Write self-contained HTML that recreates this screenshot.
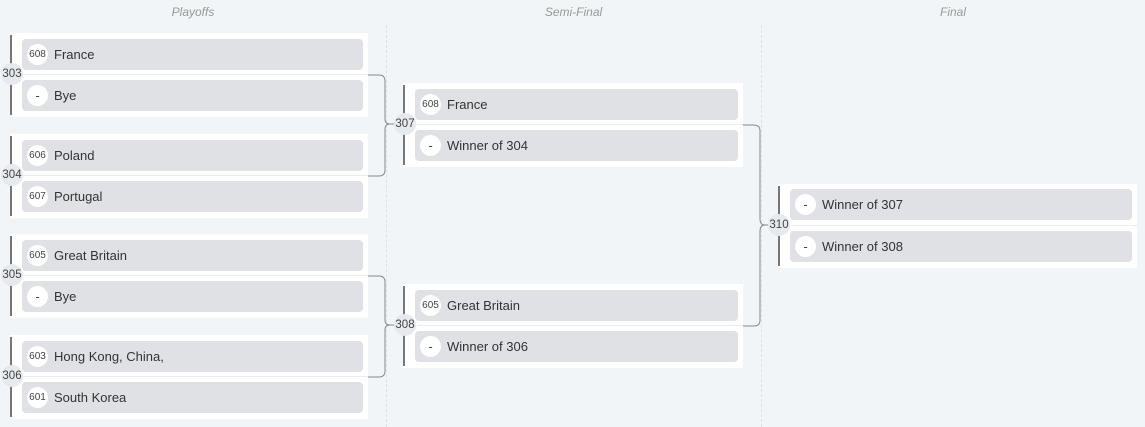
<!DOCTYPE html>
<html><head><meta charset="utf-8"><style>
body{margin:0;width:1145px;height:427px;background:#f2f5f8;font-family:"Liberation Sans",sans-serif;position:relative;overflow:hidden}
.h{position:absolute;top:5px;font-size:12px;font-style:italic;color:#999;text-align:center}
.m{position:absolute;background:#fff}
.bar{position:absolute;left:0;top:2px;bottom:2px;width:2px;background:#777}
.sep{position:absolute;left:0;right:0;height:1px;background:#e8ebef;top:41px}
.r{position:absolute;left:12px;right:5px;height:31px;background:#dfe1e5;border-radius:4px;font-size:13px;color:#333}
.r .c{position:absolute;left:5px;top:5px;width:21px;height:21px;border-radius:50%;background:#fff;font-size:10px;color:#444;text-align:center;line-height:21px}
.r .c.d{font-size:13px}
.r .t{position:absolute;left:32px;top:8px}
.id{position:absolute;width:22px;height:22px;border-radius:50%;background:#e6e9ed;font-size:11.5px;color:#444;text-align:center;line-height:22px}
.v{position:absolute;top:25px;bottom:0;border-left:1px dashed #dde1e6}
</style></head><body>
<div class="h" style="left:0;width:386px">Playoffs</div>
<div class="h" style="left:386px;width:375px">Semi-Final</div>
<div class="h" style="left:761px;width:384px">Final</div>
<div class="v" style="left:386px"></div>
<div class="v" style="left:761px"></div>
<svg width="1145" height="427" style="position:absolute;left:0;top:0" fill="none" stroke="#888" stroke-width="1">
<path d="M368 75 H379 Q385 75 385 81 V119 Q385 124 390 124 M368 176 H379 Q385 176 385 170 V129 Q385 124 390 124 H395"/>
<path d="M368 276 H379 Q385 276 385 282 V320 Q385 325 390 325 M368 377 H379 Q385 377 385 371 V330 Q385 325 390 325 H395"/>
<path d="M743 125 H754 Q760 125 760 131 V219 Q760 225 765 225 M743 326 H754 Q760 326 760 320 V231 Q760 225 765 225 H770"/>
</svg>

<div class="m" style="left:10px;top:33px;width:358px;height:84px"><div class="bar"></div><div class="sep"></div>
<div class="r" style="top:6px"><div class="c">608</div><div class="t">France</div></div>
<div class="r" style="top:47px"><div class="c d">-</div><div class="t">Bye</div></div></div>
<div class="id" style="left:1px;top:63px">303</div>

<div class="m" style="left:10px;top:134px;width:358px;height:84px"><div class="bar"></div><div class="sep"></div>
<div class="r" style="top:6px"><div class="c">606</div><div class="t">Poland</div></div>
<div class="r" style="top:47px"><div class="c">607</div><div class="t">Portugal</div></div></div>
<div class="id" style="left:1px;top:164px">304</div>

<div class="m" style="left:10px;top:234px;width:358px;height:84px"><div class="bar"></div><div class="sep"></div>
<div class="r" style="top:6px"><div class="c">605</div><div class="t">Great Britain</div></div>
<div class="r" style="top:47px"><div class="c d">-</div><div class="t">Bye</div></div></div>
<div class="id" style="left:1px;top:264px">305</div>

<div class="m" style="left:10px;top:335px;width:358px;height:84px"><div class="bar"></div><div class="sep"></div>
<div class="r" style="top:6px"><div class="c">603</div><div class="t">Hong Kong, China,</div></div>
<div class="r" style="top:47px"><div class="c">601</div><div class="t">South Korea</div></div></div>
<div class="id" style="left:1px;top:365px">306</div>

<div class="m" style="left:403px;top:83px;width:340px;height:84px"><div class="bar"></div><div class="sep"></div>
<div class="r" style="top:6px"><div class="c">608</div><div class="t">France</div></div>
<div class="r" style="top:47px"><div class="c d">-</div><div class="t">Winner of 304</div></div></div>
<div class="id" style="left:394px;top:113px">307</div>

<div class="m" style="left:403px;top:284px;width:340px;height:84px"><div class="bar"></div><div class="sep"></div>
<div class="r" style="top:6px"><div class="c">605</div><div class="t">Great Britain</div></div>
<div class="r" style="top:47px"><div class="c d">-</div><div class="t">Winner of 306</div></div></div>
<div class="id" style="left:394px;top:314px">308</div>

<div class="m" style="left:778px;top:184px;width:359px;height:84px"><div class="bar"></div><div class="sep"></div>
<div class="r" style="top:5px"><div class="c d">-</div><div class="t">Winner of 307</div></div>
<div class="r" style="top:47px"><div class="c d">-</div><div class="t">Winner of 308</div></div></div>
<div class="id" style="left:768px;top:214px">310</div>
</body></html>
